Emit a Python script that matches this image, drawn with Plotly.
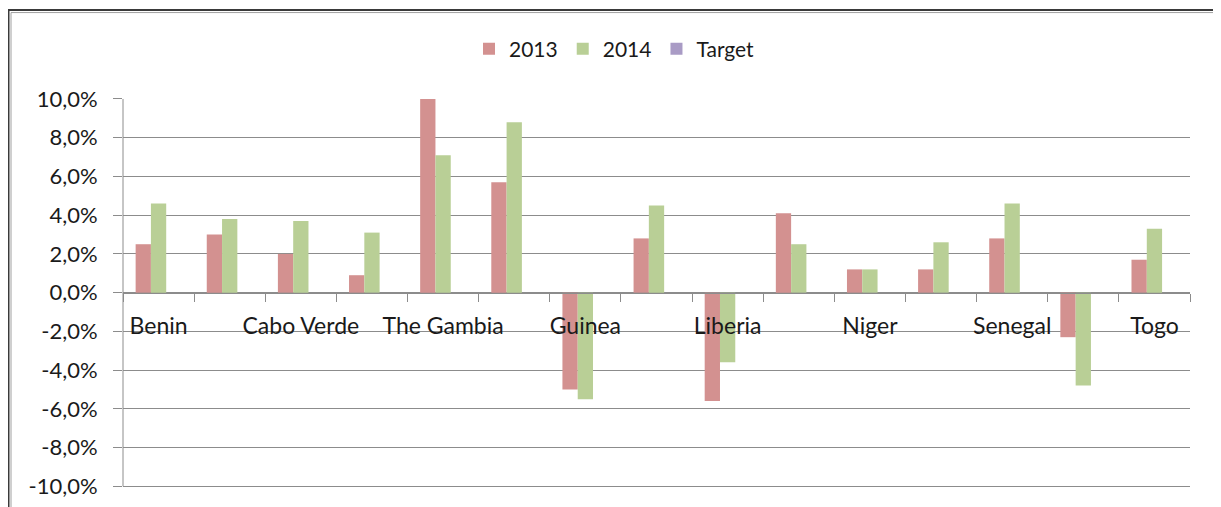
import plotly.graph_objects as go

# ---- data ----
countries = ["Benin", "Burkina Faso", "Cabo Verde", "Côte d'Ivoire", "The Gambia",
             "Ghana", "Guinea", "Guinea-Bissau", "Liberia", "Mali", "Niger",
             "Nigeria", "Senegal", "Sierra Leone", "Togo"]
tick_text = ["Benin", "", "Cabo Verde", "", "The Gambia", "", "Guinea", "",
             "Liberia", "", "Niger", "", "Senegal", "", "Togo"]
values_2013 = [2.5, 3.0, 2.0, 0.9, 10.0, 5.7, -5.0, 2.8, -5.6, 4.1, 1.2, 1.2, 2.8, -2.3, 1.7]
values_2014 = [4.6, 3.8, 3.7, 3.1, 7.1, 8.8, -5.5, 4.5, -3.6, 2.5, 1.2, 2.6, 4.6, -4.8, 3.3]
values_target = [None] * 15
y_ticks = [10, 8, 6, 4, 2, 0, -2, -4, -6, -8, -10]
y_tick_text = ["10,0%", "8,0%", "6,0%", "4,0%", "2,0%", "0,0%",
               "-2,0%", "-4,0%", "-6,0%", "-8,0%", "-10,0%"]

C2013 = "#D39190"
C2014 = "#B9CF96"
CTGT = "#A99BC5"
GRID = "#8C8C8C"
FONT = "Lato"
TXT = "#1a1a1a"

fig = go.Figure()
fig.add_trace(go.Bar(name="2013", x=countries, y=values_2013, marker=dict(color=C2013, line=dict(width=0))))
fig.add_trace(go.Bar(name="2014", x=countries, y=values_2014, marker=dict(color=C2014, line=dict(width=0))))
fig.add_trace(go.Bar(name="Target", x=countries, y=values_target, marker=dict(color=CTGT, line=dict(width=0))))

# page body has an 8px default margin, so the figure is drawn 8px smaller / offset
OFF = 8
W, H = 1221 - OFF, 507 - OFF
Y_LO, Y_HI = -10.5, 10.05
PX_PER_UNIT = 19.385
L, R, T = 123 - OFF, 31, 98 - OFF
B = H - T - PX_PER_UNIT * (Y_HI - Y_LO)
pw, ph = W - L - R, H - T - B

def px_x(p):
    return (p - OFF - L) / pw

def px_y(p):
    return (H - B - (p - OFF)) / ph

fig.update_layout(
    width=W, height=H,
    margin=dict(l=L, r=R, t=T, b=B, pad=0, autoexpand=False),
    paper_bgcolor="white", plot_bgcolor="white",
    barmode="group", bargap=0.355, bargroupgap=0,
    font=dict(family=FONT, color=TXT, size=22),
    showlegend=True,
    legend=dict(orientation="h", xref="container", x=0.5, xanchor="center",
                yref="container", y=1 - (49 - OFF) / H, yanchor="middle",
                font=dict(size=21, family=FONT, color=TXT),
                itemwidth=30, tracegroupgap=0, bgcolor="rgba(0,0,0,0)"),
    xaxis=dict(
        type="category", anchor="free", position=(0 - Y_LO) / (Y_HI - Y_LO), automargin=False,
        tickmode="array", tickvals=countries, ticktext=tick_text,
        tickson="boundaries", ticks="outside", ticklen=8, tickcolor=GRID, tickwidth=1,
        showline=True, linecolor=GRID, linewidth=1, showgrid=False,
        tickfont=dict(size=23, family=FONT, color=TXT), tickangle=0,
        ticklabelstandoff=13,
    ),
    yaxis=dict(
        range=[Y_LO, Y_HI], tickmode="array", tickvals=y_ticks, ticktext=y_tick_text,
        automargin=False,
        showgrid=True, gridcolor=GRID, gridwidth=1, zeroline=False,
        showline=False,
        ticks="outside", ticklen=9, tickcolor=GRID,
        tickfont=dict(size=22, family=FONT, color=TXT),
        ticklabelstandoff=11,
    ),
    shapes=[
        # vertical axis line, spanning only the -10%..10% value range
        dict(type="line", xref="paper", yref="y", x0=0, x1=0,
             y0=y_ticks[-1], y1=y_ticks[0],
             line=dict(color=GRID, width=1), layer="above"),
        dict(type="rect", xref="paper", yref="paper",
             x0=px_x(8.5), x1=px_x(1219), y0=px_y(530), y1=px_y(10),
             line=dict(color="#3a3a3a", width=2), fillcolor="rgba(0,0,0,0)", layer="above"),
        dict(type="rect", xref="paper", yref="paper",
             x0=px_x(11), x1=px_x(1216.5), y0=px_y(530), y1=px_y(12.5),
             line=dict(color="#a0a0a0", width=1), fillcolor="rgba(0,0,0,0)", layer="above"),
    ],
)

fig.write_html("out.html")
